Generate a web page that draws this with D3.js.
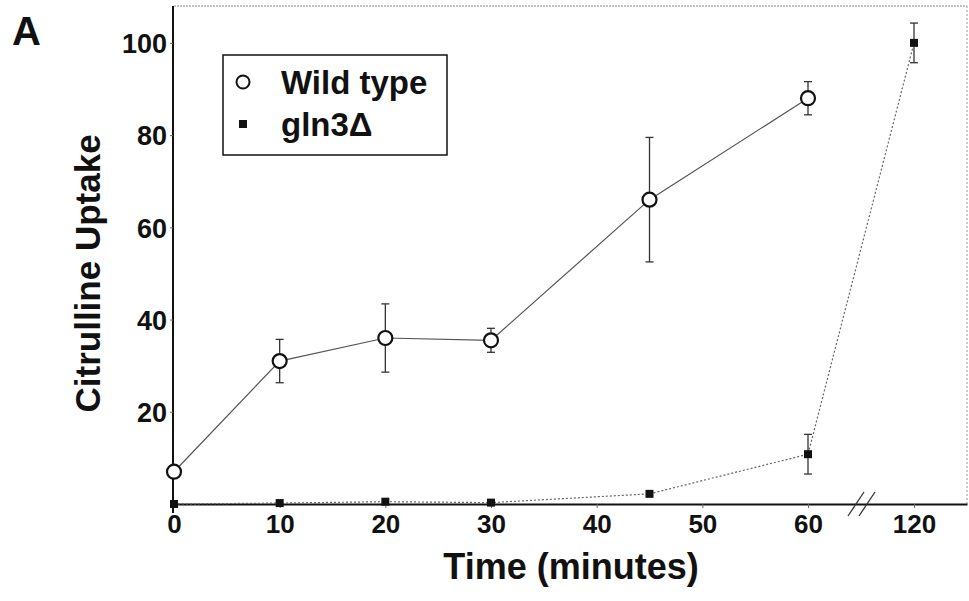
<!DOCTYPE html>
<html>
<head>
<meta charset="utf-8">
<script src="https://cdn.jsdelivr.net/npm/d3@7"></script>
<style>
  body { margin: 0; background: #fff; }
  text { font-family: "Liberation Sans", Arial, Helvetica, sans-serif; font-weight: bold; fill: #111; }
</style>
</head>
<body>
<div id="chart"></div>
<script>
// data
const wtTimes = [0, 10, 20, 30, 45, 60];
const wtValues = [7, 31, 36, 35.5, 66, 88];
const wtErr = [0, 4.7, 7.4, 2.6, 13.5, 3.6];

const glnTimes = [0, 10, 20, 30, 45, 60, 120];
const glnValues = [0, 0.2, 0.5, 0.3, 2.2, 10.8, 100];
const glnErr = [0, 0, 0, 0, 0, 4.3, 4.3];

const xTicks = [0, 10, 20, 30, 40, 50, 60, 120];
const yTicks = [20, 40, 60, 80, 100];
const seriesNames = ["Wild type", "gln3\u0394"];

const width = 969, height = 601;

const svg = d3.select("#chart").append("svg")
  .attr("width", width)
  .attr("height", height);

svg.append("rect").attr("width", width).attr("height", height).attr("fill", "#fff");

// broken axis: 0-60 linear, then jump so 120 sits one gap after 60
const x = d3.scaleLinear()
  .domain([0, 60, 120, 125])
  .range([174, 808, 914, 967]);
const y = d3.scaleLinear()
  .domain([0, 108])
  .range([504, 6]);

const wt = wtTimes.map((t, i) => ({ t, v: wtValues[i], e: wtErr[i] }));
const gln = glnTimes.map((t, i) => ({ t, v: glnValues[i], e: glnErr[i] }));

// frame (top and right are light dotted)
svg.append("line")
  .attr("x1", x(0)).attr("x2", x(125)).attr("y1", y(108)).attr("y2", y(108))
  .attr("stroke", "#888").attr("stroke-width", 1.2).attr("stroke-dasharray", "2,1");
svg.append("line")
  .attr("x1", x(125)).attr("x2", x(125)).attr("y1", y(108)).attr("y2", y(0))
  .attr("stroke", "#999").attr("stroke-width", 1).attr("stroke-dasharray", "2,2");

// axes
const xAxis = svg.append("g")
  .attr("transform", `translate(0,${y(0)})`)
  .call(d3.axisBottom(x).tickValues(xTicks).tickSize(4).tickSizeOuter(0));
xAxis.select(".domain").attr("stroke", "#111").attr("stroke-width", 2);
xAxis.selectAll(".tick line").attr("stroke", "#666");
xAxis.selectAll(".tick text")
  .attr("font-size", 26).attr("dy", null).attr("y", 29).attr("fill", "#111");

const yAxis = svg.append("g")
  .attr("transform", `translate(${x(0) - 1},0)`)
  .call(d3.axisLeft(y).tickValues(yTicks).tickSize(3).tickSizeOuter(0));
yAxis.select(".domain").attr("stroke", "#111").attr("stroke-width", 2)
  .attr("d", `M0,${y(108)}V${y(0) + 9}`);
yAxis.selectAll(".tick line").attr("stroke", "#666");
yAxis.selectAll(".tick text")
  .attr("font-size", 27).attr("x", -6).attr("dy", "0.36em").attr("fill", "#111");

// break marks on the x axis
[-5, 6].forEach(off => {
  svg.append("line")
    .attr("x1", x(90) + off - 8).attr("y1", y(0) + 12)
    .attr("x2", x(90) + off + 8).attr("y2", y(0) - 12)
    .attr("stroke", "#333").attr("stroke-width", 1.3);
});

// lines
const line = d3.line().x(d => x(d.t)).y(d => y(d.v));
svg.append("path").datum(gln)
  .attr("d", line).attr("fill", "none")
  .attr("stroke", "#666").attr("stroke-width", 1.2).attr("stroke-dasharray", "2,2");
svg.append("path").datum(wt)
  .attr("d", line).attr("fill", "none")
  .attr("stroke", "#555").attr("stroke-width", 1.2);

// error bars
function errorBars(data) {
  const g = svg.append("g").attr("stroke", "#333").attr("stroke-width", 1.3);
  data.filter(d => d.e > 0).forEach(d => {
    g.append("line").attr("x1", x(d.t)).attr("x2", x(d.t))
      .attr("y1", y(d.v - d.e)).attr("y2", y(d.v + d.e));
    [d.v - d.e, d.v + d.e].forEach(v => {
      g.append("line").attr("x1", x(d.t) - 4).attr("x2", x(d.t) + 4)
        .attr("y1", y(v)).attr("y2", y(v));
    });
  });
}
errorBars(wt);
errorBars(gln);

// markers
svg.append("g").selectAll("circle").data(wt).join("circle")
  .attr("cx", d => x(d.t)).attr("cy", d => y(d.v)).attr("r", 7)
  .attr("fill", "#fff").attr("stroke", "#111").attr("stroke-width", 2.2);

const square = d3.symbol().type(d3.symbolSquare).size(64);
svg.append("g").selectAll("path").data(gln).join("path")
  .attr("transform", d => `translate(${x(d.t)},${y(d.v)})`)
  .attr("d", square).attr("fill", "#111");

// legend
const legend = svg.append("g");
legend.append("rect")
  .attr("x", 223).attr("y", 55).attr("width", 224).attr("height", 100)
  .attr("fill", "#fff").attr("stroke", "#111").attr("stroke-width", 1.5);
legend.append("circle").attr("cx", 243).attr("cy", 82).attr("r", 6.5)
  .attr("fill", "#fff").attr("stroke", "#111").attr("stroke-width", 2);
legend.append("path").attr("transform", "translate(243,124)")
  .attr("d", square).attr("fill", "#111");
legend.selectAll("text").data(seriesNames).join("text")
  .attr("x", 281).attr("y", (d, i) => 94 + i * 42)
  .attr("font-size", 33).text(d => d);

// axis titles
svg.append("text")
  .attr("x", 571).attr("y", 579).attr("text-anchor", "middle")
  .attr("font-size", 36).text("Time (minutes)");
svg.append("text")
  .attr("transform", `translate(100,${y(50)}) rotate(-90)`)
  .attr("text-anchor", "middle").attr("font-size", 35).text("Citrulline Uptake");

// panel letter
svg.append("text").attr("x", 12).attr("y", 45).attr("font-size", 40).text("A");
</script>
</body>
</html>
